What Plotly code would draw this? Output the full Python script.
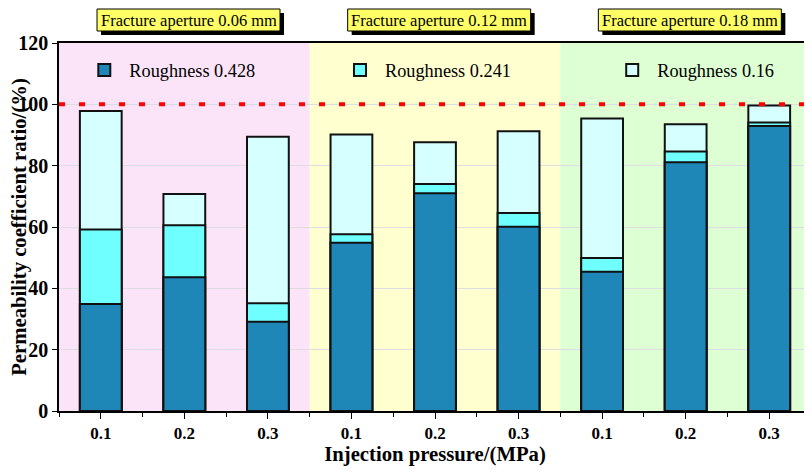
import plotly.graph_objects as go

pressures = ["0.1", "0.2", "0.3", "0.1", "0.2", "0.3", "0.1", "0.2", "0.3"]
apertures = ["Fracture aperture 0.06 mm", "Fracture aperture 0.12 mm", "Fracture aperture 0.18 mm"]
rough_0428 = [34.9, 43.6, 29.1, 54.9, 71.0, 60.1, 45.4, 81.1, 92.9]
rough_0241 = [59.2, 60.6, 35.1, 57.6, 74.0, 64.6, 49.9, 84.6, 94.1]
rough_016 = [97.8, 70.8, 89.4, 90.2, 87.6, 91.2, 95.4, 93.5, 99.6]
reference_line = 100

x = list(range(len(pressures)))
FONT = "Liberation Serif, Times New Roman, serif"

fig = go.Figure()
series = [
    ("Roughness 0.16", rough_016, "#D6FFFF", "legend3"),
    ("Roughness 0.241", rough_0241, "#6FFFFF", "legend2"),
    ("Roughness 0.428", rough_0428, "#1F86B8", "legend"),
]
for name, vals, col, leg in series:
    fig.add_trace(go.Bar(
        x=x, y=vals, name=name, width=0.5, legend=leg,
        marker=dict(color=col, line=dict(color="#111111", width=2)),
    ))

band_colors = ["#FCE4F8", "#FFFFD0", "#DEFFD4"]
for i, c in enumerate(band_colors):
    fig.add_shape(type="rect", xref="x", yref="paper",
                  x0=3 * i - 0.5, x1=3 * i + 2.5, y0=0, y1=1,
                  fillcolor=c, line=dict(width=0), layer="below")

fig.add_shape(type="line", xref="paper", yref="y", x0=0, x1=1,
              y0=reference_line, y1=reference_line,
              line=dict(color="#FF0000", width=4, dash="6px,14px"), layer="above")

# title boxes (shadow + yellow box) above each aperture group
PH = 368.0
def py(p):
    return 1 + (43 - p) / PH
half_w = 91.5 / 83.56
for i, txt in enumerate(apertures):
    cx = 3 * i + 1.05
    sx = 4 / 83.56
    fig.add_shape(type="rect", xref="x", yref="paper",
                  x0=cx - half_w + sx, x1=cx + half_w + sx, y0=py(35), y1=py(13),
                  fillcolor="#000000", line=dict(width=0), layer="above")
    fig.add_shape(type="rect", xref="x", yref="paper",
                  x0=cx - half_w, x1=cx + half_w, y0=py(31), y1=py(9),
                  fillcolor="#FFFF66", line=dict(color="#000000", width=1), layer="above")
    fig.add_annotation(x=cx, xref="x", y=py(20), yref="paper", yanchor="middle",
                       text=txt, showarrow=False,
                       font=dict(family=FONT, size=16.5, color="#000000"))

leg_common = dict(orientation="h", y=1 - (70 - 43) / PH, yanchor="middle",
                  xanchor="left", bgcolor="rgba(0,0,0,0)", itemwidth=40,
                  font=dict(family=FONT, size=18.3))

# the page places the figure 8 px from the top-left corner of the window
fig.update_layout(
    width=804, height=462,
    margin=dict(l=51, r=1, t=35, b=59, autoexpand=False),
    paper_bgcolor="white", plot_bgcolor="white",
    barmode="overlay",
    font=dict(family=FONT, color="#000000"),
    showlegend=True,
    legend=dict(x=0.027, **leg_common),
    legend2=dict(x=0.367, **leg_common),
    legend3=dict(x=0.729, **leg_common),
    xaxis=dict(
        tickmode="array", tickvals=x, ticktext=pressures,
        range=[-0.5, 8.5], showgrid=False, automargin=False,
        showline=True, linecolor="#000000", linewidth=1.5, mirror=True,
        ticks="outside", ticklen=6, tickcolor="#000000",
        minor=dict(tickmode="linear", tick0=-0.5, dtick=1, ticks="outside",
                   ticklen=4, tickcolor="#000000", showgrid=False),
        tickfont=dict(family=FONT, size=17, weight="bold"),
        title=dict(text="<b>Injection pressure/(MPa)</b>", font=dict(family=FONT, size=20.7), standoff=4),
    ),
    yaxis=dict(
        range=[0, 120], tickmode="linear", tick0=0, dtick=20,
        showgrid=True, gridcolor="#DDDDE4", gridwidth=1, automargin=False,
        showline=True, linecolor="#000000", linewidth=1.5, mirror=True,
        ticks="outside", ticklen=5, tickcolor="#000000",
        tickfont=dict(family=FONT, size=20, weight="bold"),
        zeroline=False,
        title=dict(text="<b>Permeability coefficient ratio/(%)</b>", font=dict(family=FONT, size=20.7), standoff=14),
    ),
)

fig.write_html("out.html")
